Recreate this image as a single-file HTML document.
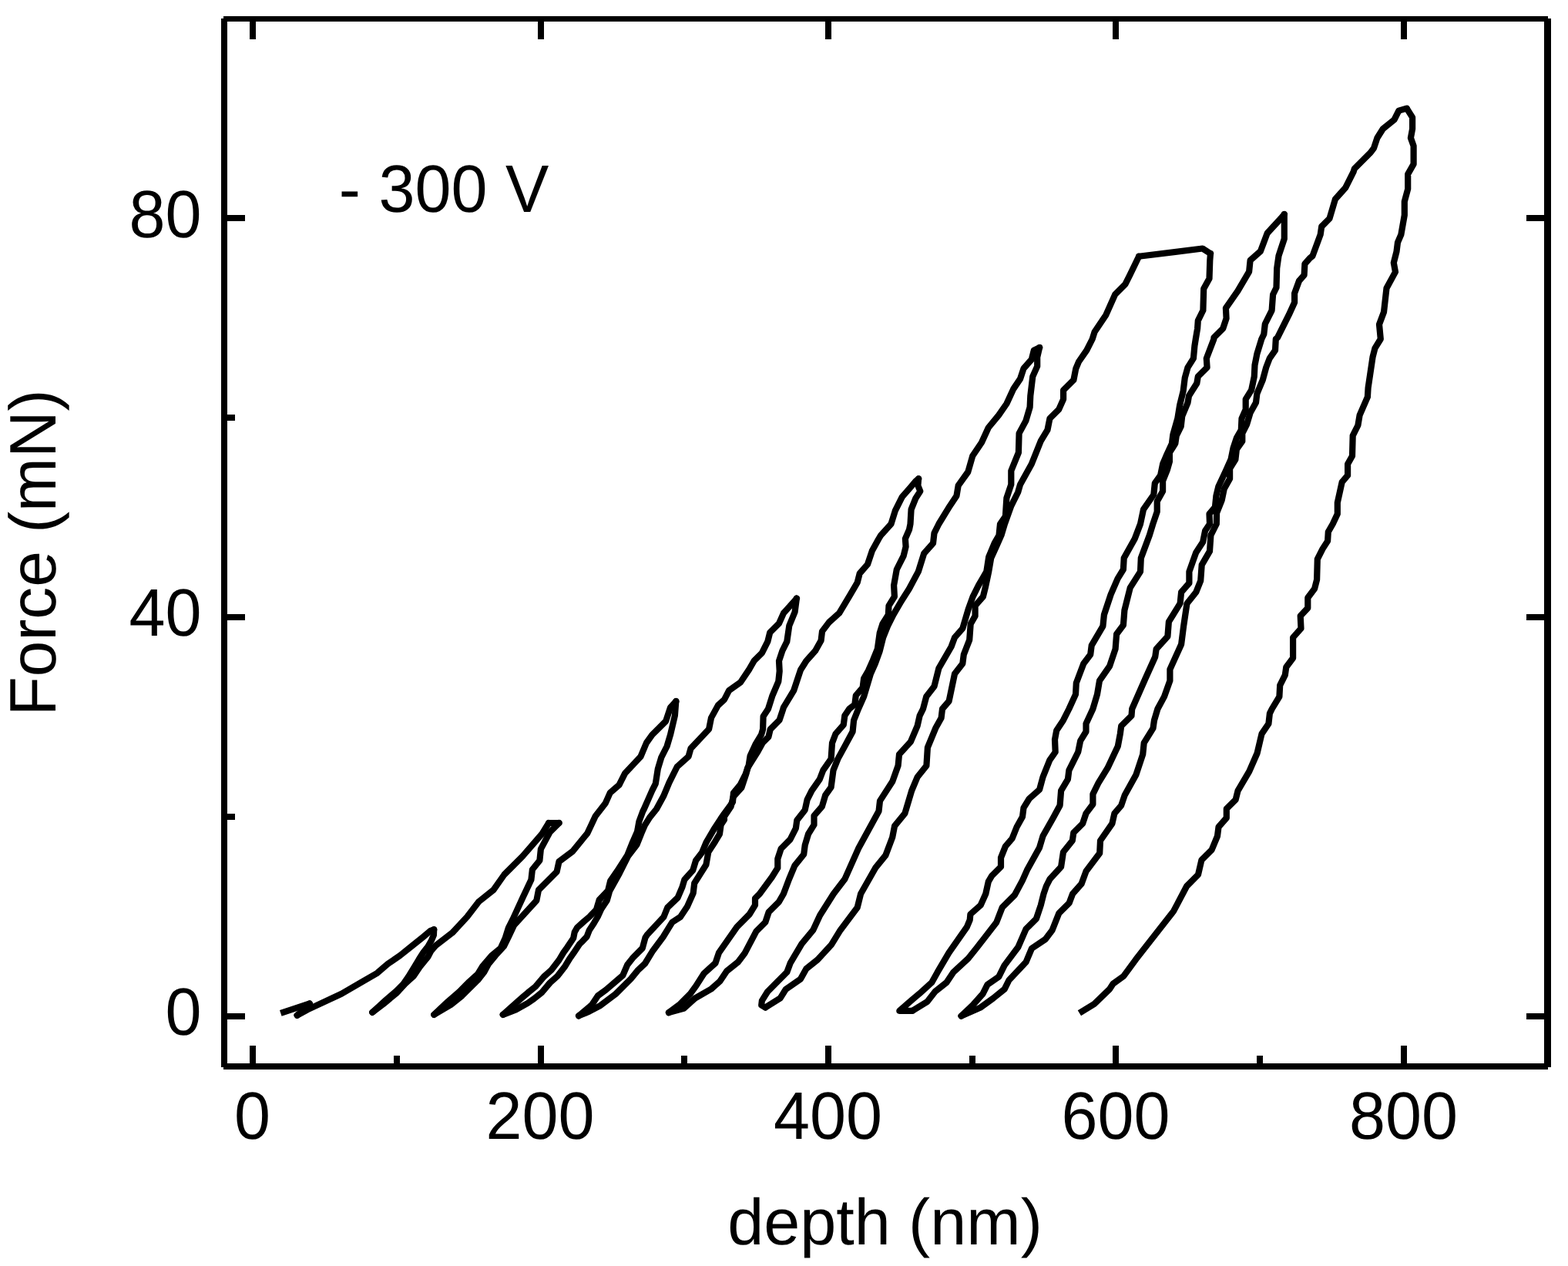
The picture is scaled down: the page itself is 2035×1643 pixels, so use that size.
<!DOCTYPE html>
<html lang="en"><head><meta charset="utf-8"><title>Force vs depth, -300 V</title>
<style>html,body{margin:0;padding:0;background:#fff}body{width:2035px;height:1643px;overflow:hidden}</style></head>
<body>
<svg width="2035" height="1643" viewBox="0 0 2035 1643" style="display:block" shape-rendering="crispEdges">
<rect width="2035" height="1643" fill="#fff"/>
<g fill="#000" stroke="none">
<rect x="287" y="24" width="8" height="1361"/>
<rect x="2004" y="24" width="9" height="1361"/>
<rect x="290" y="21" width="1719" height="7"/>
<rect x="290" y="1380" width="1719" height="8"/>
<rect x="324" y="1357" width="8" height="24"/>
<rect x="324" y="27" width="8" height="24"/>
<rect x="698" y="1357" width="8" height="24"/>
<rect x="698" y="27" width="8" height="24"/>
<rect x="1071" y="1357" width="8" height="24"/>
<rect x="1071" y="27" width="8" height="24"/>
<rect x="1444" y="1357" width="8" height="24"/>
<rect x="1444" y="27" width="8" height="24"/>
<rect x="1818" y="1357" width="8" height="24"/>
<rect x="1818" y="27" width="8" height="24"/>
<rect x="511" y="1370" width="8" height="11"/>
<rect x="884" y="1370" width="8" height="11"/>
<rect x="1258" y="1370" width="8" height="11"/>
<rect x="1631" y="1370" width="8" height="11"/>
<rect x="294" y="1315" width="24" height="8"/>
<rect x="1981" y="1315" width="24" height="8"/>
<rect x="294" y="797" width="24" height="8"/>
<rect x="1981" y="797" width="24" height="8"/>
<rect x="294" y="279" width="24" height="8"/>
<rect x="1981" y="279" width="24" height="8"/>
<rect x="294" y="1056" width="11" height="8"/>
<rect x="294" y="538" width="11" height="8"/>
</g>
<g fill="none" stroke="#000" stroke-width="8.2" stroke-linecap="round" stroke-linejoin="round" shape-rendering="geometricPrecision">
<path stroke-linecap="butt" d="M364.3 1314.8 L401.9 1302.3"/>
<path d="M385.7 1317.7 L396.0 1308.9 L401.9 1302.3"/>
<path d="M385.7 1317.7 L399.0 1310.4 L443.2 1289.7 L488.9 1263.2 L489.7 1262.7 L503.4 1250.9 L519.1 1240.1 L533.9 1228.3 L548.6 1216.5 L558.5 1208.2 L563.2 1206.4"/>
<path d="M483.3 1313.8 L489.7 1307.9 L500.5 1298.1 L514.2 1286.3 L523.1 1277.5 L530.0 1267.6 L537.8 1254.9 L543.7 1245.0 L549.6 1235.7 L555.5 1228.3 L559.9 1220.5 L562.9 1213.6 L563.2 1206.4"/>
<path d="M483.3 1313.8 L497.5 1303.0 L515.2 1288.3 L526.0 1276.5 L536.8 1266.7 L544.7 1254.9 L555.5 1241.6 L559.4 1234.2 L565.3 1227.3 L587.0 1210.6 L606.1 1190.0 L621.1 1170.4 L640.7 1154.7 L654.5 1135.0 L678.1 1111.4 L703.6 1082.0 L712.2 1068.0"/>
<path d="M712.2 1068.0 L725.5 1068.0"/>
<path d="M563.4 1316.8 L581.1 1300.1 L595.8 1287.3 L608.6 1274.5 L620.4 1263.7 L626.3 1253.9 L638.1 1240.1 L649.9 1230.3 L655.7 1217.5 L659.7 1204.7 L665.6 1192.9 L678.3 1165.3 L689.4 1141.7 L690.9 1128.5 L700.4 1116.7 L701.9 1101.9 L713.7 1079.8 L725.5 1068.0"/>
<path d="M563.4 1316.8 L585.0 1304.0 L599.7 1292.2 L620.4 1271.6 L628.2 1261.7 L634.1 1250.9 L643.0 1240.1 L653.8 1228.3 L659.7 1216.5 L667.1 1200.8 L696.3 1168.8 L699.0 1155.0 L722.6 1131.4 L725.5 1118.1 L743.2 1104.9 L762.4 1081.3 L772.7 1059.2 L785.9 1042.2 L791.8 1028.9 L803.6 1018.6 L811.0 1003.8 L831.6 981.7 L839.0 964.0 L846.4 953.7 L864.1 936.0 L870.0 918.3 L877.3 910.2"/>
<path d="M652.8 1316.8 L666.5 1304.5 L678.3 1294.2 L685.2 1288.3 L695.0 1280.4 L705.8 1267.6 L715.7 1258.8 L725.5 1246.0 L731.4 1236.2 L736.3 1229.3 L744.2 1217.5 L745.7 1209.7 L749.1 1203.8 L757.9 1195.9 L764.8 1190.0 L773.9 1180.7 L777.7 1167.9 L789.1 1155.7 L792.1 1143.4 L800.9 1130.6 L814.2 1110.0 L820.1 1095.2 L827.0 1079.5 L829.4 1066.2 L834.3 1052.9 L835.8 1050.0 L846.4 1025.9 L850.8 1017.1 L853.8 997.9 L858.2 983.2 L865.6 968.5 L870.0 953.7 L875.9 928.6 L877.3 910.2"/>
<path d="M652.8 1316.8 L669.5 1310.4 L684.7 1302.0 L693.1 1296.1 L702.9 1288.3 L713.7 1275.5 L723.5 1266.7 L733.4 1253.9 L739.3 1244.1 L744.2 1237.2 L752.0 1225.4 L756.0 1221.6 L761.7 1215.4 L764.8 1207.2 L770.9 1197.9 L775.6 1190.0 L780.3 1179.7 L787.8 1168.4 L791.1 1156.6 L803.9 1133.5 L815.2 1110.9 L826.5 1096.2 L832.4 1081.4 L836.8 1071.1 L843.2 1060.8 L852.0 1050.0 L861.1 1033.3 L868.5 1015.6 L878.8 995.0 L893.6 981.7 L896.5 971.4 L920.1 946.3 L923.0 931.6 L931.9 915.4 L940.0 908.0 L946.1 896.1 L960.9 885.7 L972.7 868.1 L978.6 857.7 L988.9 847.4 L996.3 832.7 L999.2 820.9 L1011.0 809.1 L1016.9 795.8 L1030.2 781.1 L1033.9 776.7"/>
<path d="M751.1 1318.3 L768.0 1304.2 L775.8 1292.4 L786.6 1284.5 L808.3 1265.9 L814.2 1252.1 L822.0 1242.3 L833.8 1230.5 L837.5 1216.7 L840.0 1213.0 L861.4 1190.0 L866.3 1177.8 L879.6 1165.0 L885.5 1151.2 L888.4 1141.4 L899.2 1129.6 L903.1 1116.8 L911.0 1106.5 L916.5 1093.3 L926.3 1076.6 L935.2 1062.9 L940.0 1055.9 L951.0 1040.9 L951.9 1029.1 L960.8 1018.3 L967.7 1004.5 L971.6 993.7 L973.6 980.9 L980.4 966.2 L988.1 953.4 L990.1 946.5 L990.6 929.8 L997.0 920.0 L1002.2 903.4 L1010.3 884.3 L1011.7 871.0 L1011.0 857.7 L1015.4 844.5 L1021.3 832.7 L1024.3 812.0 L1031.6 794.3 L1033.9 776.7"/>
<path d="M751.1 1318.3 L764.6 1312.7 L779.4 1304.8 L799.0 1290.0 L818.7 1270.4 L827.5 1259.6 L837.1 1250.5 L847.4 1233.7 L860.6 1216.0 L872.4 1196.9 L883.0 1190.0 L891.8 1176.8 L899.7 1159.1 L901.2 1146.3 L916.4 1122.2 L919.3 1105.9 L928.1 1092.2 L934.0 1082.3 L935.6 1070.6 L940.0 1063.8 L939.8 1060.0 L948.6 1046.8 L951.7 1034.0 L962.4 1022.2 L968.3 1004.5 L970.2 996.7 L983.7 975.0 L989.6 964.2 L997.4 956.4 L999.7 946.5 L1011.5 934.7 L1016.4 920.0 L1016.9 918.2 L1030.2 896.1 L1039.0 869.5 L1046.4 857.7 L1058.2 844.5 L1065.6 831.2 L1067.0 819.4 L1075.9 807.6 L1089.1 795.8 L1102.4 773.7 L1112.7 756.0 L1115.7 744.2 L1126.0 732.4 L1131.9 714.7 L1140.0 700.0 L1143.2 694.7 L1156.5 680.0 L1161.9 662.6 L1170.8 644.9 L1181.1 633.1 L1188.5 624.3 L1192.1 621.3"/>
<path d="M868.0 1314.1 L882.8 1303.0 L896.0 1289.7 L903.4 1279.4 L913.7 1263.2 L928.5 1249.9 L932.9 1236.7 L956.5 1202.8 L972.7 1186.5 L980.0 1174.7 L980.0 1165.9 L985.9 1160.0 L1001.9 1138.2 L1009.3 1126.4 L1009.3 1114.6 L1013.7 1101.3 L1025.5 1089.5 L1032.9 1074.8 L1034.3 1064.5 L1044.7 1051.2 L1047.6 1037.9 L1053.5 1026.1 L1063.8 1011.4 L1068.3 999.6 L1078.6 984.9 L1080.0 964.2 L1084.5 952.4 L1094.8 940.6 L1096.3 928.8 L1102.2 920.0 L1109.3 914.4 L1110.8 902.6 L1119.6 892.3 L1121.1 880.5 L1127.0 870.2 L1132.9 856.9 L1138.8 842.2 L1141.7 821.5 L1145.4 809.7 L1152.8 797.9 L1153.5 786.1 L1160.9 774.3 L1160.1 759.6 L1163.8 739.0 L1172.7 721.3 L1175.6 709.5 L1174.9 699.2 L1180.0 687.4 L1181.5 680.0 L1182.6 661.1 L1188.5 646.4 L1194.3 637.5 L1191.4 630.2 L1192.1 621.3"/>
<path d="M868.0 1314.1 L887.2 1308.9 L901.9 1295.6 L922.6 1283.8 L934.3 1273.5 L943.2 1260.2 L957.9 1248.5 L966.8 1236.7 L981.5 1208.6 L993.3 1196.9 L997.7 1183.6 L1011.0 1170.3 L1016.9 1160.0 L1024.0 1141.1 L1031.4 1123.4 L1043.2 1108.7 L1044.7 1096.9 L1049.1 1082.2 L1056.5 1070.4 L1056.5 1058.6 L1066.8 1046.8 L1071.2 1032.0 L1078.6 1021.7 L1081.5 999.6 L1087.4 984.9 L1096.3 968.6 L1106.6 949.5 L1108.1 934.7 L1114.0 920.0 L1121.1 904.1 L1125.5 889.3 L1129.9 874.6 L1135.8 861.3 L1141.7 845.1 L1146.1 827.4 L1152.0 812.7 L1159.4 797.9 L1169.7 780.2 L1180.0 764.0 L1191.8 741.9 L1199.2 718.3 L1211.0 705.1 L1212.5 691.8 L1218.4 680.0 L1232.7 656.7 L1241.5 643.4 L1243.7 630.2 L1256.3 612.5 L1262.2 591.8 L1274.0 574.2 L1282.8 555.0 L1296.1 538.8 L1306.4 524.0 L1315.2 504.9 L1324.1 491.6 L1328.5 478.3 L1338.8 466.5 L1341.8 454.7 L1349.1 451.1"/>
<path d="M993.3 1307.4 L988.2 1304.5 L988.2 1304.5 L988.9 1298.6 L996.3 1286.8 L1021.3 1261.7 L1025.7 1249.9 L1040.5 1224.9 L1055.2 1207.2 L1064.1 1188.0 L1081.8 1160.0 L1096.3 1141.1 L1114.0 1101.3 L1140.5 1052.7 L1142.0 1039.4 L1158.2 1014.3 L1165.6 993.7 L1167.0 979.0 L1181.8 962.8 L1190.6 942.1 L1193.6 928.8 L1198.0 920.0 L1202.2 904.1 L1212.5 890.8 L1218.4 867.2 L1234.6 839.2 L1239.0 827.4 L1249.3 815.6 L1256.7 790.6 L1262.6 774.3 L1270.0 759.6 L1280.3 741.9 L1283.2 722.8 L1290.6 705.1 L1296.5 694.7 L1298.0 680.0 L1304.9 670.0 L1305.7 656.7 L1306.4 646.4 L1312.3 628.7 L1312.3 611.0 L1321.9 587.4 L1322.6 562.4 L1331.4 546.1 L1336.6 528.5 L1337.3 513.7 L1340.3 488.6 L1346.2 475.4 L1346.2 463.6 L1349.1 451.1"/>
<path d="M993.3 1307.4 L1012.5 1295.6 L1019.9 1283.8 L1039.0 1270.6 L1046.4 1257.3 L1061.1 1245.5 L1078.8 1226.3 L1090.6 1207.2 L1112.7 1177.7 L1117.1 1160.0 L1136.1 1126.4 L1149.3 1110.2 L1158.2 1086.6 L1161.1 1071.8 L1174.4 1055.6 L1183.2 1026.1 L1190.6 1008.5 L1202.4 993.7 L1203.9 970.1 L1214.2 945.1 L1221.6 931.8 L1223.0 920.0 L1231.6 910.0 L1239.0 874.6 L1249.3 861.3 L1250.8 849.5 L1258.2 830.4 L1259.7 809.7 L1265.6 799.4 L1265.6 786.1 L1275.9 774.3 L1278.8 762.6 L1283.2 741.9 L1286.2 724.2 L1293.6 708.0 L1299.5 694.7 L1303.9 680.0 L1312.3 656.7 L1321.1 639.0 L1324.1 628.7 L1338.8 602.2 L1350.6 572.7 L1359.5 557.9 L1362.4 543.2 L1374.2 531.4 L1380.1 518.1 L1380.1 506.3 L1393.4 493.1 L1396.3 478.3 L1400.0 469.5 L1410.3 454.7 L1417.7 440.0 L1420.6 430.8 L1435.4 408.7 L1447.2 382.2 L1460.4 368.9 L1466.3 357.1 L1478.1 332.8"/>
<path d="M1478.1 332.8 L1560.7 322.5 L1571.0 329.1"/>
<path d="M1184.2 1311.8 L1167.3 1311.8 L1167.3 1311.8 L1184.2 1297.1 L1193.1 1289.7 L1209.3 1275.0 L1216.7 1261.7 L1231.4 1236.7 L1255.0 1202.8 L1258.7 1193.9 L1259.4 1186.5 L1272.7 1174.7 L1279.3 1160.0 L1282.8 1144.1 L1287.2 1136.7 L1299.0 1124.9 L1299.0 1113.1 L1304.9 1098.4 L1313.7 1088.1 L1319.6 1073.3 L1327.0 1060.0 L1328.5 1048.3 L1335.8 1036.5 L1349.1 1024.7 L1353.5 1008.5 L1362.4 986.3 L1369.7 976.0 L1369.0 959.8 L1371.2 948.0 L1380.0 934.7 L1387.4 920.0 L1396.0 901.1 L1396.8 886.4 L1406.3 861.3 L1415.2 849.5 L1416.7 837.7 L1431.4 812.7 L1432.9 797.9 L1441.7 771.4 L1450.6 750.8 L1457.9 739.0 L1458.7 724.2 L1472.7 699.2 L1480.0 680.0 L1484.0 661.1 L1497.3 642.0 L1498.8 627.2 L1506.1 616.9 L1509.1 602.2 L1513.5 591.8 L1520.9 575.6 L1522.4 563.8 L1528.3 543.2 L1531.2 525.5 L1535.6 507.8 L1537.8 490.1 L1541.5 476.9 L1548.9 465.1 L1550.4 448.8 L1551.8 440.0 L1554.1 426.4 L1554.8 416.1 L1561.4 402.8 L1562.2 374.8 L1569.5 361.5 L1570.3 337.9 L1571.0 329.1"/>
<path d="M1184.2 1311.8 L1203.4 1300.0 L1213.7 1286.8 L1228.5 1275.0 L1237.3 1261.7 L1256.5 1244.0 L1268.3 1229.3 L1293.3 1196.9 L1300.7 1177.7 L1316.9 1161.5 L1327.0 1142.6 L1332.9 1129.3 L1349.1 1099.9 L1353.5 1085.1 L1366.8 1061.5 L1375.6 1045.3 L1377.1 1026.1 L1385.9 1011.4 L1387.4 999.6 L1399.2 976.0 L1402.2 961.3 L1409.5 949.5 L1409.5 939.2 L1418.4 920.0 L1424.0 901.1 L1427.0 883.4 L1440.2 864.3 L1447.6 842.2 L1449.1 823.0 L1457.9 811.2 L1459.4 792.0 L1466.8 762.6 L1480.0 741.9 L1480.8 724.2 L1491.8 694.7 L1496.3 680.0 L1501.7 664.1 L1501.7 650.8 L1509.1 637.5 L1509.1 624.3 L1515.0 609.5 L1517.9 599.2 L1517.9 587.4 L1525.3 575.6 L1526.8 565.3 L1532.7 553.5 L1534.2 540.2 L1541.5 522.6 L1543.0 513.7 L1553.3 497.5 L1554.8 488.6 L1566.6 476.9 L1565.8 465.1 L1575.4 440.0 L1575.4 438.2 L1587.2 426.4 L1591.6 413.1 L1590.9 399.9 L1606.4 377.7 L1621.1 352.7 L1622.6 337.9 L1635.9 326.1 L1644.7 302.6 L1662.4 283.4 L1666.8 278.2"/>
<path d="M1247.6 1318.5 L1262.4 1304.5 L1275.6 1289.7 L1281.5 1277.9 L1296.3 1267.6 L1303.6 1252.9 L1321.3 1229.3 L1331.6 1205.7 L1344.9 1192.4 L1350.8 1174.7 L1354.5 1160.0 L1357.9 1150.0 L1362.4 1141.1 L1377.1 1124.9 L1380.0 1105.7 L1391.8 1091.0 L1393.3 1080.7 L1405.1 1068.9 L1409.5 1055.6 L1418.4 1043.8 L1418.4 1030.6 L1425.7 1015.8 L1437.5 996.7 L1450.8 968.6 L1453.8 952.4 L1455.2 942.1 L1468.5 928.8 L1469.2 920.0 L1485.9 882.0 L1499.2 852.5 L1500.7 842.2 L1515.4 825.9 L1516.9 806.8 L1531.6 783.2 L1533.1 768.5 L1543.4 756.7 L1543.4 741.9 L1552.3 716.9 L1561.1 703.6 L1564.1 688.8 L1570.0 680.0 L1569.5 667.0 L1576.9 658.2 L1578.4 643.4 L1581.3 631.6 L1590.2 612.5 L1597.5 596.3 L1600.5 581.5 L1604.9 568.3 L1610.8 557.9 L1611.5 543.2 L1616.7 531.4 L1616.7 518.1 L1624.1 506.3 L1627.8 488.6 L1628.5 473.9 L1631.4 459.2 L1637.3 440.0 L1640.3 433.8 L1641.8 420.5 L1650.6 402.8 L1652.1 382.2 L1656.5 373.3 L1657.2 348.3 L1659.5 332.0 L1666.8 309.9 L1666.8 299.6 L1666.8 278.2"/>
<path d="M1247.6 1318.5 L1272.7 1307.4 L1288.9 1295.6 L1303.6 1283.8 L1309.5 1272.0 L1331.6 1248.5 L1339.0 1230.8 L1356.7 1219.0 L1365.6 1207.2 L1374.4 1185.1 L1387.7 1171.8 L1392.1 1160.0 L1403.6 1147.0 L1409.5 1130.8 L1427.2 1107.2 L1428.0 1091.0 L1443.4 1068.9 L1446.4 1055.6 L1455.2 1045.3 L1459.7 1032.0 L1474.4 1005.5 L1483.2 979.0 L1484.7 964.2 L1496.5 945.1 L1498.0 934.7 L1502.4 920.0 L1511.0 904.1 L1518.4 883.4 L1518.4 868.7 L1533.1 836.3 L1536.1 812.7 L1540.5 783.2 L1552.3 768.5 L1558.2 753.7 L1559.7 733.1 L1570.0 715.4 L1571.4 694.7 L1578.8 680.0 L1579.1 665.6 L1585.7 649.3 L1588.7 634.6 L1596.1 621.3 L1596.1 608.1 L1603.4 596.3 L1604.9 583.0 L1612.3 572.7 L1612.3 562.4 L1618.2 550.6 L1622.6 535.8 L1630.0 522.6 L1631.4 510.8 L1638.8 493.1 L1643.2 476.9 L1647.7 465.1 L1655.0 454.7 L1655.8 440.0 L1658.0 438.2 L1672.7 408.7 L1680.1 392.5 L1680.1 380.7 L1686.0 364.5 L1692.6 357.1 L1693.4 342.4 L1700.0 335.0 L1703.4 332.3 L1713.7 304.3 L1715.2 294.0 L1725.5 283.6 L1732.9 258.6 L1746.1 243.8 L1756.5 223.2 L1757.9 218.8 L1778.6 198.1 L1783.0 192.2 L1787.4 179.0 L1794.8 167.2 L1809.5 155.4 L1815.4 143.6 L1825.7 140.6"/>
<path stroke-linecap="butt" d="M1400.9 1314.8 L1420.1 1303.0 L1440.0 1283.8 L1444.7 1276.6 L1458.4 1266.7 L1474.2 1245.1 L1523.3 1182.2 L1540.2 1150.0 L1555.0 1135.2 L1559.4 1116.1 L1572.7 1102.8 L1580.0 1085.1 L1581.5 1073.3 L1591.8 1061.5 L1591.8 1049.7 L1603.6 1037.9 L1606.6 1026.1 L1621.3 1001.1 L1631.6 977.5 L1637.5 952.4 L1646.4 939.2 L1647.9 925.9 L1650.8 920.0 L1660.4 904.1 L1661.2 889.3 L1667.8 876.1 L1669.3 865.7 L1678.1 854.0 L1678.1 827.4 L1688.5 815.6 L1687.7 799.4 L1697.3 789.1 L1697.3 775.8 L1706.1 764.0 L1709.1 752.2 L1709.8 725.7 L1716.5 712.4 L1723.1 702.1 L1723.8 690.3 L1729.7 680.0 L1735.8 667.0 L1735.8 652.3 L1741.7 625.7 L1749.1 616.9 L1749.1 602.2 L1755.0 591.8 L1755.7 565.3 L1762.4 552.0 L1764.6 538.8 L1774.9 515.2 L1775.6 503.4 L1781.5 463.6 L1784.5 451.8 L1791.8 440.0 L1790.0 421.0 L1796.0 405.0 L1799.5 374.0 L1811.0 352.9 L1808.8 341.1 L1812.5 326.4 L1814.0 314.6 L1818.4 304.3 L1822.8 279.2 L1822.8 261.5 L1827.2 245.3 L1827.2 226.1 L1834.6 212.9 L1834.6 189.3 L1830.9 179.0 L1833.1 167.2 L1833.1 152.4 L1825.7 140.6"/>
</g>
<g font-family="'Liberation Sans', Arial, sans-serif" font-size="84.5" fill="#000" text-rendering="geometricPrecision">
<text transform="translate(327.5 1477.7) scale(1 1.03)" text-anchor="middle">0</text>
<text transform="translate(701.0 1477.7) scale(1 1.03)" text-anchor="middle">200</text>
<text transform="translate(1074.5 1477.7) scale(1 1.03)" text-anchor="middle">400</text>
<text transform="translate(1448.0 1477.7) scale(1 1.03)" text-anchor="middle">600</text>
<text transform="translate(1821.5 1477.7) scale(1 1.03)" text-anchor="middle">800</text>
<text transform="translate(261.5 1343.2) scale(1 1.03)" text-anchor="end">0</text>
<text transform="translate(261.5 825.0) scale(1 1.03)" text-anchor="end">40</text>
<text transform="translate(261.5 307.5) scale(1 1.03)" text-anchor="end">80</text>
<text transform="translate(439.8 275) scale(1 1.03)">- 300 V</text>
<text x="1148.5" y="1614.7" text-anchor="middle">depth (nm)</text>
<text transform="translate(71.5 717.5) rotate(-90) scale(0.992 1.01)" text-anchor="middle">Force (mN)</text>
</g>
</svg>
</body></html>
